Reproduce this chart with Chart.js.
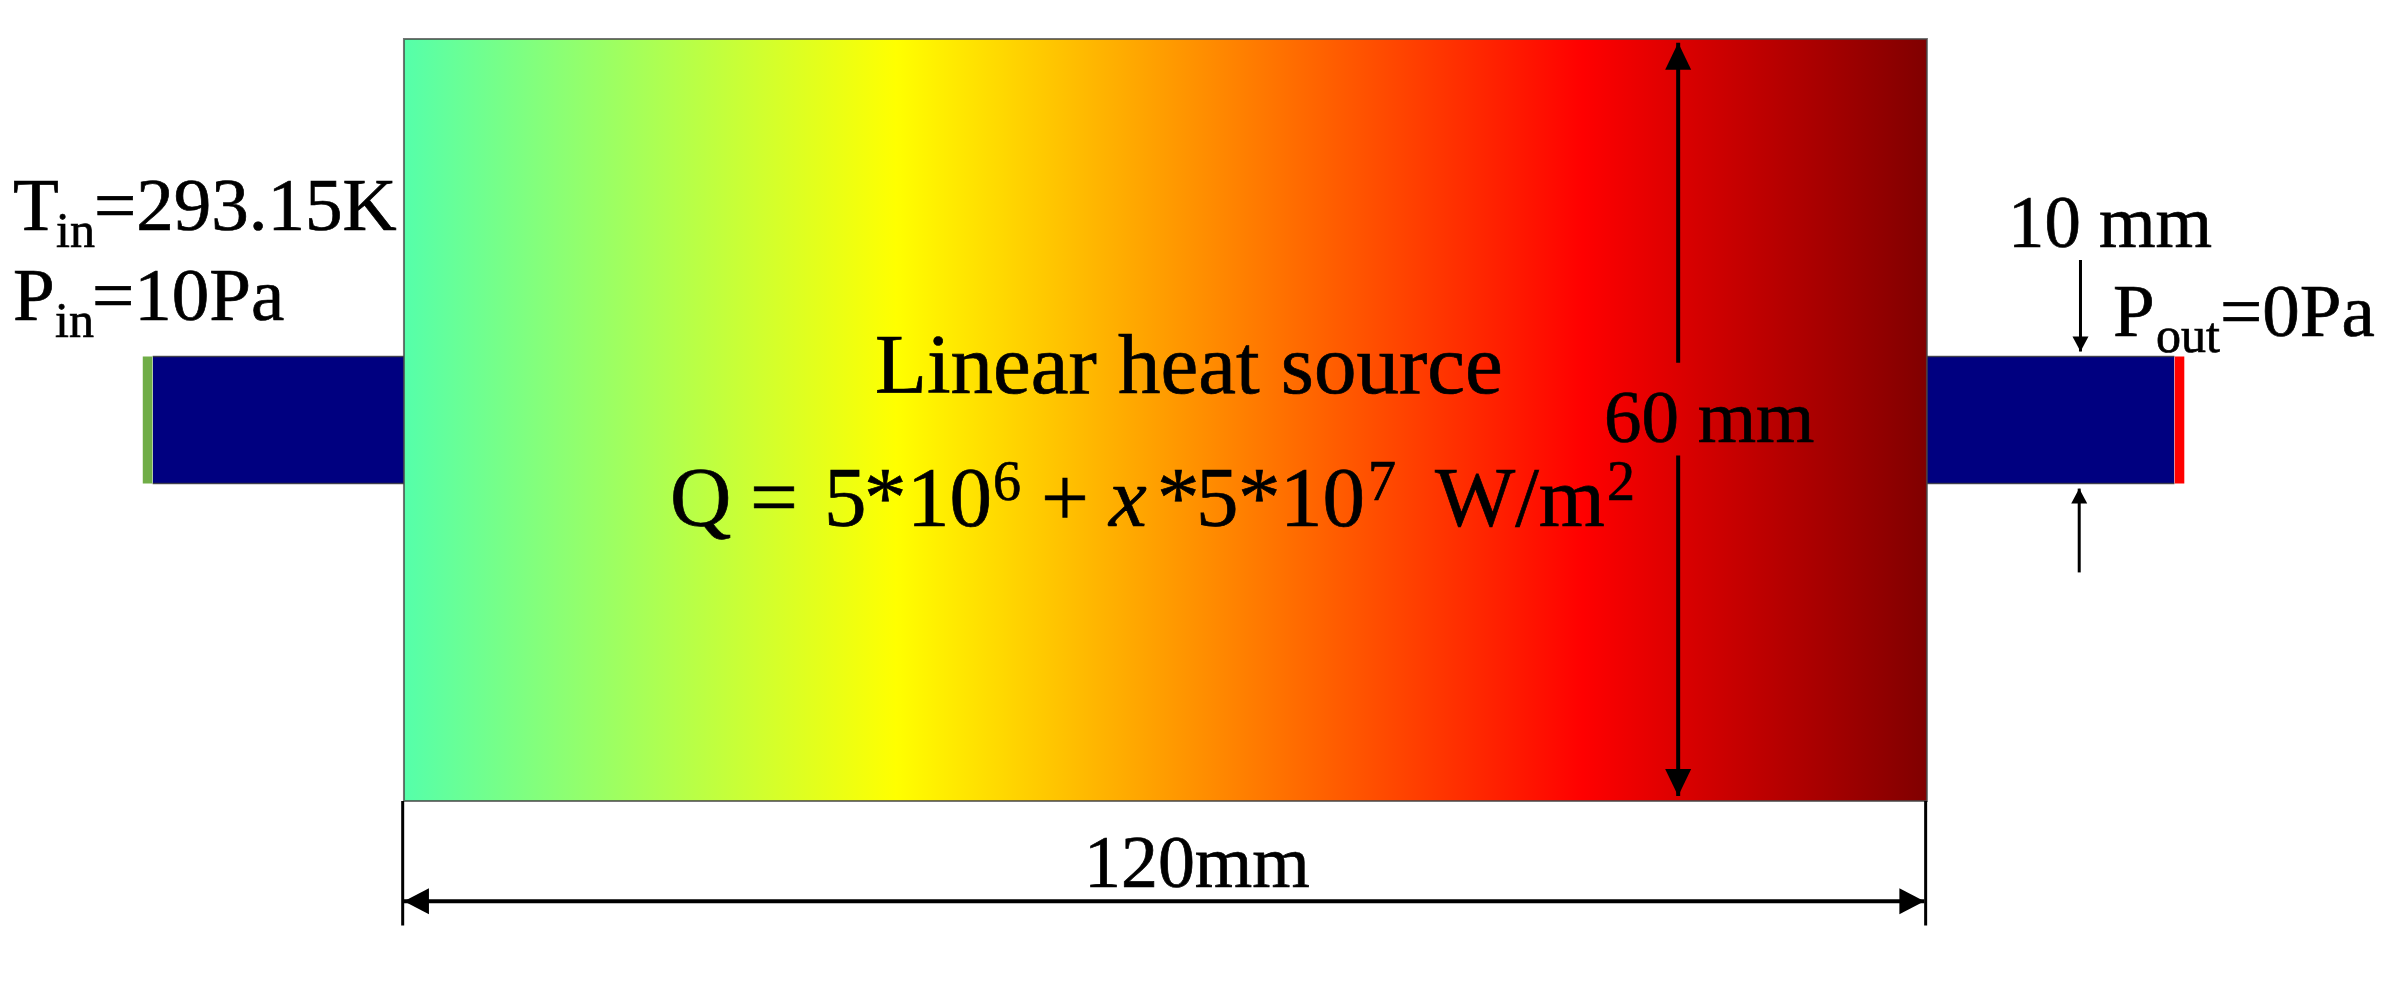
<!DOCTYPE html>
<html>
<head>
<meta charset="utf-8">
<title>Linear heat source</title>
<script src="https://cdn.jsdelivr.net/npm/chart.js@4"></script>
<style>
  html, body { margin: 0; padding: 0; background: #fff; }
  canvas { display: block; }
</style>
</head>
<body>
<canvas id="chart" width="2405" height="981"></canvas>
<script>
// geometry of the model in mm, centre line at y = 0
var domainX = [0, 120];
var domainY = [-30, 30];
var inletX = [-19.8, 0];
var outletX = [120, 139.5];
var channelY = [-5, 5];
var inletCapX = [-20.6, -19.8];
var outletCapX = [139.5, 140.3];

// temperature colours along x (mm)
var tempPos = [0, 38.8, 66, 92.9, 120];
var tempColors = ['#55ffaa', '#ffff00', '#ff8000', '#ff0000', '#800000'];

// dimension lines in mm
var dim60Upper = [[100.4, 29.7], [100.4, 4.5]];
var dim60Lower = [[100.4, -2.8], [100.4, -29.6]];
var dim120 = [[0, -37.9], [119.8, -37.9]];
var dimTick0 = [[-0.1, -30], [-0.1, -39.8]];
var dimTick120 = [[119.9, -30], [119.9, -39.8]];
var dim10Top = [[132.1, 12.6], [132.1, 5.4]];
var dim10Bottom = [[132, -12], [132, -5.4]];

var xMin = -31.83, xMax = 157.67, yMin = -44.17, yMax = 33.07;

function pts(list) {
  return list.map(function (p) { return { x: p[0], y: p[1] }; });
}

function block(xs, ys, color) {
  return {
    data: [{ x: xs[0], y: ys[1] }, { x: xs[1], y: ys[1] }],
    showLine: true, borderWidth: 0, pointRadius: 0,
    backgroundColor: color, fill: { value: ys[0] }
  };
}

function outline(xs, ys, color, w) {
  return {
    data: [{ x: xs[0], y: ys[0] }, { x: xs[0], y: ys[1] }, { x: xs[1], y: ys[1] }, { x: xs[1], y: ys[0] }, { x: xs[0], y: ys[0] }],
    showLine: true, borderColor: color, borderWidth: w, pointRadius: 0, fill: false
  };
}

function edge(xs, y) {
  return {
    data: [{ x: xs[0], y: y }, { x: xs[1], y: y }],
    showLine: true, borderColor: 'rgba(50,50,50,0.8)', borderWidth: 1.5, pointRadius: 0, fill: false
  };
}

function dimLine(list, w, headLen, headHalf, both) {
  return {
    data: pts(list), showLine: true, borderColor: '#000', borderWidth: w,
    pointRadius: 0, fill: false, head: { len: headLen, half: headHalf, both: both }
  };
}

var tempFill = function (ctx) {
  var c = ctx.chart;
  if (!c.chartArea) return '#ffff00';
  var a = c.scales.x.getPixelForValue(domainX[0]);
  var b = c.scales.x.getPixelForValue(domainX[1]);
  var g = c.ctx.createLinearGradient(a, 0, b, 0);
  tempPos.forEach(function (p, i) {
    g.addColorStop((p - domainX[0]) / (domainX[1] - domainX[0]), tempColors[i]);
  });
  return g;
};

var SERIF = '"Liberation Serif"';

// text runs: text, x, baseline y on the page, font size in px, style, x squeeze
var textRuns = [
  ['T', 13, 230, 75], ['in', 56, 247, 50], ['=293.15K', 94, 230, 75],
  ['P', 13, 320, 75], ['in', 55, 337, 50], ['=10Pa', 92, 320, 75],
  ['10 mm', 2008, 247, 75, '', 0.97],
  ['P', 2113, 336, 75], ['out', 2156, 352, 50], ['=0Pa', 2220, 336, 75],
  ['60 mm', 1604, 442, 75],
  ['Linear heat source', 875, 393, 85],
  ['Q', 670, 526, 85], ['=', 750, 526, 85], ['5', 824, 526, 85], ['*', 864, 526, 85], ['10', 907, 526, 85], ['6', 993, 500, 56],
  ['+', 1041, 526, 85], ['x', 1109, 526, 85, 'italic'], ['*', 1157, 526, 85], ['5', 1196, 526, 85], ['*', 1238, 526, 85], ['10', 1280, 526, 85], ['7', 1368, 500, 56],
  ['W/m', 1435, 526, 85], ['2', 1607, 500, 56],
  ['120mm', 1084, 887, 75, '', 0.985]
];

var heads = {
  id: 'heads',
  afterDatasetsDraw: function (chart) {
    var ctx = chart.ctx;
    chart.data.datasets.forEach(function (ds) {
      if (!ds.head || ds.head.both === 'none') return;
      var p = ds.data.map(function (d) {
        return [chart.scales.x.getPixelForValue(d.x), chart.scales.y.getPixelForValue(d.y)];
      });
      var ends = ds.head.both === true ? [[p[0], p[1]], [p[1], p[0]]] : [[p[0], p[1]]];
      if (ds.head.both === 'start') ends = [[p[1], p[0]]];
      ends.forEach(function (e) {
        var tip = e[1], from = e[0];
        var dx = tip[0] - from[0], dy = tip[1] - from[1];
        var l = Math.sqrt(dx * dx + dy * dy);
        dx /= l; dy /= l;
        var bx = tip[0] - dx * ds.head.len, by = tip[1] - dy * ds.head.len;
        ctx.beginPath();
        ctx.moveTo(tip[0], tip[1]);
        ctx.lineTo(bx - dy * ds.head.half, by + dx * ds.head.half);
        ctx.lineTo(bx + dy * ds.head.half, by - dx * ds.head.half);
        ctx.closePath();
        ctx.fillStyle = '#000';
        ctx.fill();
      });
    });
    ctx.save();
    ctx.fillStyle = '#000';
    ctx.strokeStyle = '#000';
    ctx.lineWidth = 0.7;
    ctx.textBaseline = 'alphabetic';
    textRuns.forEach(function (t) {
      ctx.font = (t[4] ? t[4] + ' ' : '') + t[3] + 'px ' + SERIF;
      ctx.save();
      ctx.translate(t[1], t[2]);
      ctx.scale(t[5] || 1, 1);
      ctx.fillText(t[0], 0, 0);
      ctx.strokeText(t[0], 0, 0);
      ctx.restore();
    });
    ctx.restore();
  }
};

// chart.js paints the first dataset last, so the front marks come first here
new Chart(document.getElementById('chart'), {
  type: 'scatter',
  plugins: [heads],
  data: {
    datasets: [
      dimLine(dim60Upper, 4, 27, 13, 'start'),
      dimLine(dim60Lower, 4, 27, 13, false),
      dimLine(dim120, 4, 25, 13, true),
      dimLine(dimTick0, 3, 0, 0, 'none'),
      dimLine(dimTick120, 3, 0, 0, 'none'),
      dimLine(dim10Top, 3, 15, 8, false),
      dimLine(dim10Bottom, 3, 15, 8, false),
      outline(domainX, domainY, 'rgba(70,70,70,0.75)', 2),
      block(inletCapX, channelY, '#70ad47'),
      block(outletCapX, channelY, '#ff0000'),
      edge(inletX, channelY[0]),
      edge(inletX, channelY[1]),
      edge(outletX, channelY[0]),
      edge(outletX, channelY[1]),
      block(inletX, channelY, '#000080'),
      block(outletX, channelY, '#000080'),
      block(domainX, domainY, tempFill)
    ]
  },
  options: {
    responsive: false,
    animation: false,
    devicePixelRatio: 1,
    layout: { padding: 0 },
    clip: false,
    plugins: { legend: { display: false }, tooltip: { enabled: false }, title: { display: false } },
    scales: {
      x: { type: 'linear', display: false, min: xMin, max: xMax },
      y: { type: 'linear', display: false, min: yMin, max: yMax }
    }
  }
});
</script>
</body>
</html>
